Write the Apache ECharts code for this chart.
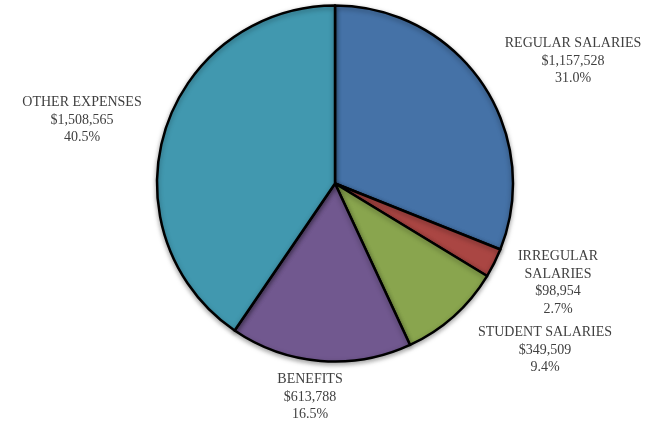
<!DOCTYPE html>
<html>
<head>
<meta charset="utf-8">
<script src="https://cdn.jsdelivr.net/npm/echarts@6/dist/echarts.min.js"></script>
<style>
html,body{margin:0;padding:0;background:#fff;}
#chart{width:654px;height:425px;}
</style>
</head>
<body>
<div id="chart"></div>
<script>
var categories = ['REGULAR SALARIES', 'IRREGULAR\nSALARIES', 'STUDENT SALARIES', 'BENEFITS', 'OTHER EXPENSES'];
var values = [1157528, 98954, 349509, 613788, 1508565];
var colors = ['#4572A7', '#AA4643', '#89A54E', '#71588F', '#4198AF'];
// label anchor positions (label layout only)
var labelPos = [[573, 61], [558, 283], [545, 350], [310, 397], [82, 120]];

var total = values.reduce(function (a, b) { return a + b; }, 0);
function fmtMoney(v) { return '$' + v.toLocaleString('en-US'); }

var chart = echarts.init(document.getElementById('chart'));
chart.setOption({
  animation: false,
  series: [{
    type: 'pie',
    center: [335, 183.5],
    radius: 178,
    startAngle: 90,
    clockwise: true,
    data: categories.map(function (c, i) {
      return { name: c, value: values[i], itemStyle: { color: colors[i] } };
    }),
    itemStyle: {
      borderColor: '#000',
      borderWidth: 2.5,
      shadowColor: 'rgba(0,0,0,0.35)',
      shadowBlur: 5,
      shadowOffsetY: 2
    },
    label: {
      show: true,
      position: 'outside',
      fontFamily: 'Liberation Serif',
      fontSize: 14,
      lineHeight: 17.5,
      color: '#404040',
      align: 'center',
      overflow: 'none',
      formatter: function (p) {
        return p.name + '\n' + fmtMoney(p.value) + '\n' + (p.value / total * 100).toFixed(1) + '%';
      }
    },
    labelLine: { show: false },
    labelLayout: function (params) {
      var pos = labelPos[params.dataIndex];
      return { x: pos[0], y: pos[1], align: 'center', verticalAlign: 'middle' };
    }
  }]
});
</script>
</body>
</html>
